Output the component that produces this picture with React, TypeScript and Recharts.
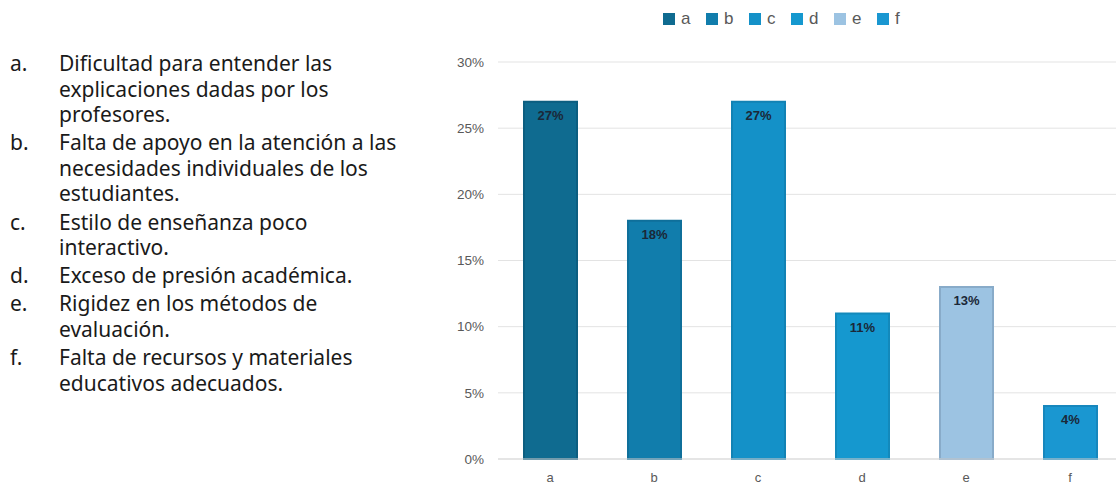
import React from 'react';
import { BarChart, Bar, XAxis, YAxis, CartesianGrid, Cell, LabelList } from 'recharts';

const categories = ['a', 'b', 'c', 'd', 'e', 'f'];
const values = [0.27, 0.18, 0.27, 0.11, 0.13, 0.04];
const yTicks = [0, 0.05, 0.1, 0.15, 0.2, 0.25, 0.3];
const fills = ['#0f6b90', '#117dac', '#1491c8', '#1598cf', '#9cc3e2', '#1a97d1'];
const strokes = ['#0c5e80', '#0f6f9a', '#1282b4', '#1389bb', '#88abc9', '#1787bd'];
const descriptions: string[][] = [
  ['Dificultad para entender las', 'explicaciones dadas por los', 'profesores.'],
  ['Falta de apoyo en la atención a las', 'necesidades individuales de los', 'estudiantes.'],
  ['Estilo de enseñanza poco', 'interactivo.'],
  ['Exceso de presión académica.'],
  ['Rigidez en los métodos de', 'evaluación.'],
  ['Falta de recursos y materiales', 'educativos adecuados.'],
];

const data = categories.map((c, i) => ({ name: c, value: values[i] }));

const pct = (v: number) => `${Math.round(v * 100)}%`;

const axisFont = '"Liberation Sans", Arial, sans-serif';

export default function App() {
  return (
    <div style={{ position: 'fixed', left: 0, top: 0, width: 1116, height: 486, overflow: 'hidden', background: '#fff' }}>
      <div style={{ position: 'absolute', left: 10, top: 51, fontFamily: '"Noto Sans", sans-serif', fontSize: 21, color: '#1a1a1a', lineHeight: '25.6px', whiteSpace: 'nowrap' }}>
        {descriptions.map((lines, i) => (
          <div key={i} style={{ display: 'flex', marginBottom: 2.5 }}>
            <div style={{ width: 49 }}>{categories[i]}.</div>
            <div>
              {lines.map((l, j) => (
                <div key={j}>{l}</div>
              ))}
            </div>
          </div>
        ))}
      </div>
      <div style={{ position: 'absolute', left: 663, top: 9, display: 'flex', fontFamily: axisFont, fontSize: 17, color: '#595959', alignItems: 'center', height: 20 }}>
        {categories.map((c, i) => (
          <div key={c} style={{ display: 'flex', alignItems: 'center', marginRight: 15.5 }}>
            <div style={{ width: 12, height: 12, background: fills[i], marginRight: 6 }} />
            <span>{c}</span>
          </div>
        ))}
      </div>
      <div style={{ position: 'absolute', left: 0, top: 0 }}>
        <BarChart width={1130} height={486} data={data} margin={{ top: 62, right: 8, left: 0, bottom: 0 }}>
          <CartesianGrid vertical={false} stroke="#e3e3e3" strokeWidth={1} />
          <XAxis
            dataKey="name"
            axisLine={{ stroke: '#d9d9d9' }}
            tickLine={false}
            tick={{ fill: '#595959', fontSize: 13, fontFamily: axisFont }}
            tickMargin={8}
            height={27}
          />
          <YAxis
            width={498}
            domain={[0, 0.3]}
            ticks={yTicks}
            tickFormatter={pct}
            axisLine={false}
            tickLine={false}
            tickMargin={8}
            tick={{ fill: '#595959', fontSize: 13.5, fontFamily: axisFont }}
          />
          <Bar dataKey="value" barSize={53} isAnimationActive={false} strokeWidth={2}>
            {data.map((d, i) => (
              <Cell key={d.name} fill={fills[i]} stroke={strokes[i]} />
            ))}
            <LabelList
              dataKey="value"
              position="insideTop"
              offset={9}
              formatter={(v: any) => pct(Number(v))}
              style={{ fill: '#1b2838', fontSize: 13, fontWeight: 'bold', fontFamily: axisFont }}
            />
          </Bar>
        </BarChart>
      </div>
    </div>
  );
}
